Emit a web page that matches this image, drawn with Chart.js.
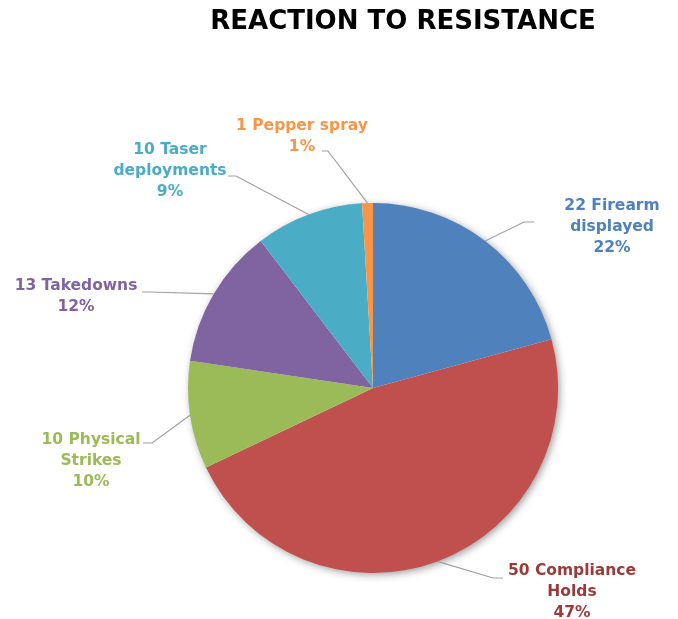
<!DOCTYPE html>
<html>
<head>
<meta charset="utf-8">
<script src="https://cdn.jsdelivr.net/npm/chart.js@4.4.1/dist/chart.umd.min.js"></script>
<style>
  html, body { margin: 0; padding: 0; background: #fff; }
</style>
</head>
<body>
<canvas id="graficoReacao" width="678" height="619"></canvas>
<script>
/* globals Chart:false */
// Data
const categories = ['Firearm displayed', 'Compliance Holds', 'Physical Strikes', 'Takedowns', 'Taser deployments', 'Pepper spray'];
const counts = [22, 50, 10, 13, 10, 1];
const percentLabels = ['22%', '47%', '10%', '12%', '9%', '1%'];
// how each category name is broken over lines in the label
const nameLines = [['Firearm', 'displayed'], ['Compliance', 'Holds'], ['Physical', 'Strikes'], ['Takedowns'], ['Taser', 'deployments'], ['Pepper spray']];

// Styles
const sliceColors = ['#4F81BD', '#C0504D', '#9BBB59', '#8064A2', '#4BACC6', '#F79646'];
const textColors = ['#4F81BD', '#9B3B39', '#9BBB59', '#8064A2', '#4BACC6', '#F79646'];
// label placement: text centre x, first line y, leader elbow and end
const labelLayout = [
  { x: 612, y: 206, elbow: [524, 222], end: [534, 222] },
  { x: 572, y: 571, elbow: [493, 578], end: [503, 578] },
  { x: 91,  y: 440, elbow: [152, 443], end: [143, 443] },
  { x: 76,  y: 286, elbow: [150, 292], end: [142, 292] },
  { x: 170, y: 150, elbow: [236, 176], end: [228, 176] },
  { x: 302, y: 126, elbow: [328, 151], end: [322, 151] }
];
const labelFont = 'bold 15.5px "DejaVu Sans"';
const lineHeight = 21;

(() => {
  'use strict'

  const shadowPlugin = {
    id: 'pieShadow',
    beforeDatasetsDraw(chart) {
      const arc = chart.getDatasetMeta(0).data[0];
      if (!arc) return;
      const { x, y, outerRadius } = arc.getProps(['x', 'y', 'outerRadius'], true);
      const ctx = chart.ctx;
      ctx.save();
      ctx.shadowColor = 'rgba(0,0,0,0.45)';
      ctx.shadowBlur = 9;
      ctx.shadowOffsetX = 2;
      ctx.shadowOffsetY = 2;
      ctx.fillStyle = '#ffffff';
      ctx.beginPath();
      ctx.arc(x, y, outerRadius - 1, 0, Math.PI * 2);
      ctx.fill();
      ctx.restore();
    }
  };

  const labelPlugin = {
    id: 'leaderLabels',
    afterDatasetsDraw(chart) {
      const ctx = chart.ctx;
      chart.getDatasetMeta(0).data.forEach((arc, i) => {
        const p = arc.getProps(['x', 'y', 'outerRadius', 'startAngle', 'endAngle'], true);
        const mid = (p.startAngle + p.endAngle) / 2;
        const ax = p.x + Math.cos(mid) * p.outerRadius;
        const ay = p.y + Math.sin(mid) * p.outerRadius;
        const lay = labelLayout[i];

        ctx.save();
        ctx.strokeStyle = '#A0A0A0';
        ctx.lineWidth = 1.2;
        ctx.beginPath();
        ctx.moveTo(ax, ay);
        ctx.lineTo(lay.elbow[0], lay.elbow[1]);
        ctx.lineTo(lay.end[0], lay.end[1]);
        ctx.stroke();

        const lines = nameLines[i].slice();
        lines[0] = counts[i] + ' ' + lines[0];
        lines.push(percentLabels[i]);
        ctx.font = labelFont;
        ctx.fillStyle = textColors[i];
        ctx.textAlign = 'center';
        ctx.textBaseline = 'middle';
        lines.forEach((t, k) => ctx.fillText(t, lay.x, lay.y + k * lineHeight));
        ctx.restore();
      });
    }
  };

  const titlePlugin = {
    id: 'topTitle',
    afterDraw(chart) {
      const ctx = chart.ctx;
      ctx.save();
      ctx.font = 'bold 26px "DejaVu Sans"';
      ctx.fillStyle = '#000000';
      ctx.textAlign = 'center';
      ctx.textBaseline = 'middle';
      ctx.fillText('REACTION TO RESISTANCE', 403, 22);
      ctx.restore();
    }
  };

  const ctx = document.getElementById('graficoReacao');
  // eslint-disable-next-line no-unused-vars
  const myChart = new Chart(ctx, {
    type: 'pie',
    data: {
      labels: categories,
      datasets: [{
        data: counts,
        backgroundColor: sliceColors,
        borderWidth: 0,
        hoverOffset: 0
      }]
    },
    options: {
      responsive: false,
      animation: false,
      devicePixelRatio: 1,
      events: [],
      layout: {
        padding: { left: 188, right: 120, top: 203, bottom: 46 }
      },
      plugins: {
        legend: { display: false },
        title: { display: false },
        tooltip: { enabled: false }
      }
    },
    plugins: [shadowPlugin, labelPlugin, titlePlugin]
  })
})()
</script>
</body>
</html>
